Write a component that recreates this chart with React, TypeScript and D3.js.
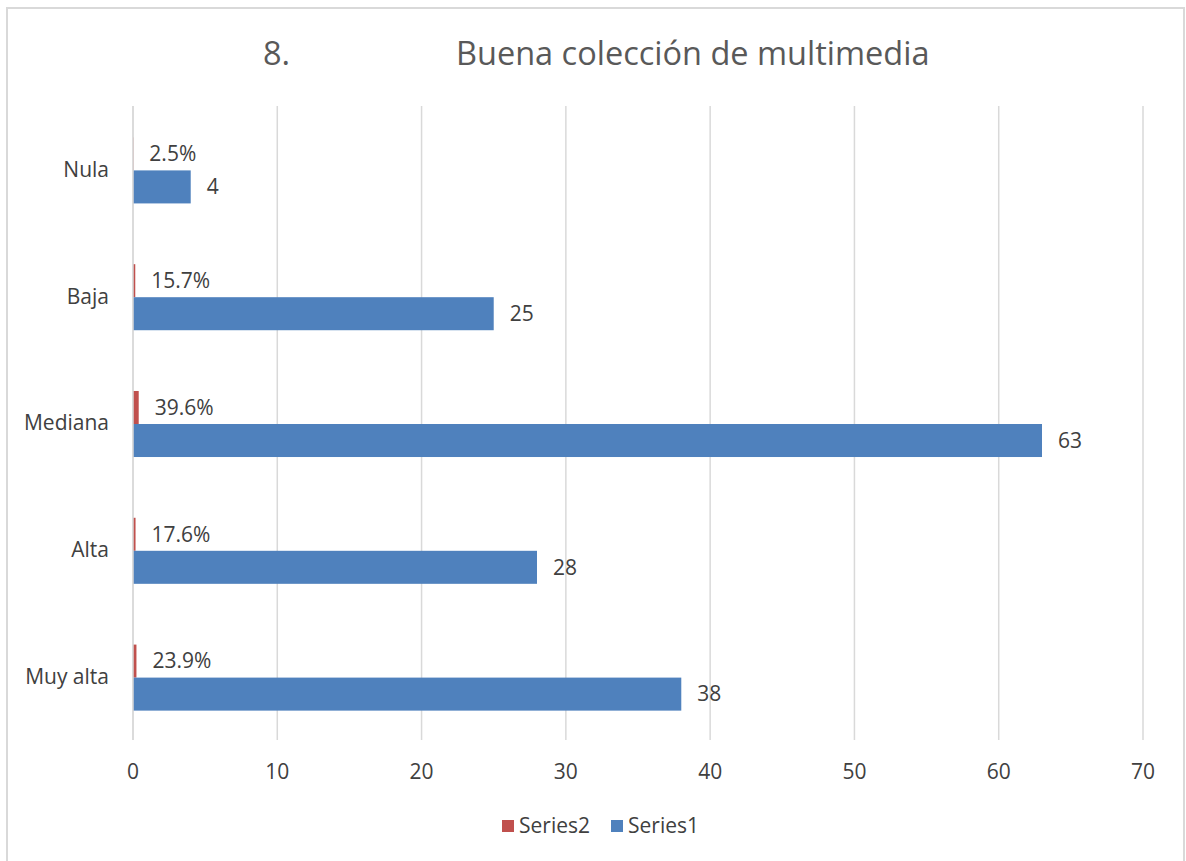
import React, { useEffect, useRef } from 'react';
import * as d3 from 'd3';

// categories top to bottom as shown
const categories = ['Nula', 'Baja', 'Mediana', 'Alta', 'Muy alta'];
const series1 = [4, 25, 63, 28, 38];
const series2 = [0.025, 0.157, 0.396, 0.176, 0.239];
const xTicks = [0, 10, 20, 30, 40, 50, 60, 70];
const seriesNames = ['Series2', 'Series1'];

const BLUE = '#4F81BD';
const RED = '#C0504D';
const TEXT = '#404040';
const GRID = '#D9D9D9';
const FONT = '"Open Sans", sans-serif';

const App = () => {
  const ref = useRef<SVGSVGElement>(null);

  useEffect(() => {
    const svg = d3.select(ref.current);
    svg.selectAll('*').remove();

    const margin = { top: 106, left: 133, right: 43, bottom: 121 };
    const W = 1186, H = 861;

    // chart border
    svg.append('rect')
      .attr('x', 7).attr('y', 8)
      .attr('width', 1177).attr('height', 880)
      .attr('fill', 'white')
      .attr('stroke', GRID).attr('stroke-width', 2);

    // title
    const title = svg.append('text')
      .attr('y', 65)
      .attr('fill', '#595959')
      .style('font-family', FONT)
      .style('font-size', '32.5px');
    title.append('tspan').attr('x', 263).text('8.');
    title.append('tspan').attr('x', 456).text('Buena colección de multimedia');

    const x = d3.scaleLinear().domain([0, 70]).range([margin.left, W - margin.right]);
    const y0 = d3.scaleBand<string>().domain(categories).range([margin.top, H - margin.bottom]);
    const y1 = d3.scaleBand<string>().domain(seriesNames).range([0, y0.bandwidth()]).paddingOuter(0.92);

    // gridlines
    svg.append('g').selectAll('line')
      .data(xTicks)
      .enter().append('line')
      .attr('x1', d => x(d)).attr('x2', d => x(d))
      .attr('y1', margin.top).attr('y2', H - margin.bottom)
      .attr('stroke', GRID).attr('stroke-width', 1.5);

    // x tick labels
    svg.append('g').selectAll('text')
      .data(xTicks)
      .enter().append('text')
      .attr('x', d => x(d))
      .attr('y', 772)
      .attr('dy', '0.35em')
      .attr('text-anchor', 'middle')
      .attr('fill', TEXT)
      .style('font-family', FONT)
      .style('font-size', '21px')
      .text(d => d);

    // category labels
    svg.append('g').selectAll('text')
      .data(categories)
      .enter().append('text')
      .attr('x', 109)
      .attr('y', d => (y0(d) as number) + y0.bandwidth() / 2)
      .attr('dy', '0.35em')
      .attr('text-anchor', 'end')
      .attr('fill', TEXT)
      .style('font-family', FONT)
      .style('font-size', '21px')
      .text(d => d);

    const groups = svg.append('g').selectAll('g')
      .data(categories)
      .enter().append('g')
      .attr('transform', d => `translate(0,${(y0(d) as number) + 1})`);

    const rows = (i: number) => [
      { key: 'Series2', value: series2[i], label: d3.format('.1%')(series2[i]), color: RED },
      { key: 'Series1', value: series1[i], label: String(series1[i]), color: BLUE },
    ];

    groups.selectAll('rect')
      .data((d, i) => rows(i))
      .enter().append('rect')
      .attr('x', x(0))
      .attr('y', d => y1(d.key) as number)
      .attr('width', d => x(d.value) - x(0))
      .attr('height', y1.bandwidth())
      .attr('fill', d => d.color);

    groups.selectAll('text')
      .data((d, i) => rows(i))
      .enter().append('text')
      .attr('x', d => x(d.value) + 16)
      .attr('y', d => (y1(d.key) as number) + y1.bandwidth() / 2)
      .attr('dy', '0.35em')
      .attr('fill', TEXT)
      .style('font-family', FONT)
      .style('font-size', '21px')
      .text(d => d.label);

    // category axis line
    svg.append('line')
      .attr('x1', x(0)).attr('x2', x(0))
      .attr('y1', margin.top).attr('y2', H - margin.bottom)
      .attr('stroke', GRID).attr('stroke-width', 1.5);

    // legend
    const legend = svg.append('g');
    const legendItems = [
      { name: 'Series2', color: RED, x: 502 },
      { name: 'Series1', color: BLUE, x: 611 },
    ];
    legendItems.forEach(item => {
      legend.append('rect')
        .attr('x', item.x).attr('y', 820)
        .attr('width', 12).attr('height', 12)
        .attr('fill', item.color);
      legend.append('text')
        .attr('x', item.x + 17).attr('y', 826)
        .attr('dy', '0.35em')
        .attr('fill', TEXT)
        .style('font-family', FONT)
        .style('font-size', '21px')
        .text(item.name);
    });
  }, []);

  return (
    <svg ref={ref} width={1186} height={861}
      style={{ position: 'absolute', left: 0, top: 0, background: 'white' }} />
  );
};

export default App;
